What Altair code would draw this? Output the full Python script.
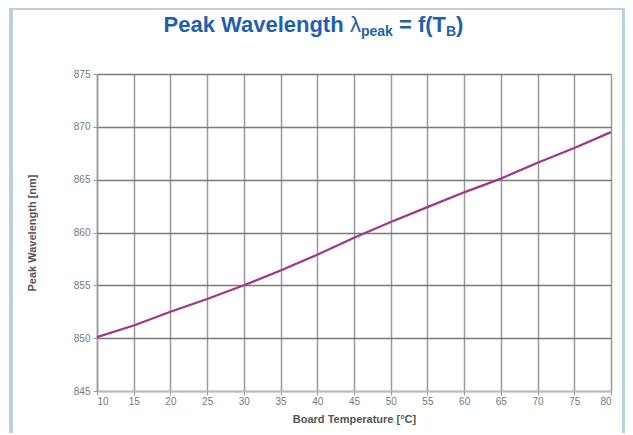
import altair as alt
import pandas as pd

temps = [10, 15, 20, 25, 30, 35, 40, 45, 50, 55, 60, 65, 70, 75, 80]
wavelength = [850.1, 851.2, 852.5, 853.7, 855.0, 856.4, 857.9, 859.5, 861.0,
              862.4, 863.8, 865.1, 866.6, 868.0, 869.5]
x_ticks = list(range(10, 81, 5))
y_ticks = list(range(845, 876, 5))

df = pd.DataFrame({"t": temps, "w": wavelength})

W, H = 514, 317
base = alt.Chart(df)

line = base.mark_line(color="#a1358f", strokeWidth=2.2).encode(
    x=alt.X("t:Q", scale=alt.Scale(domain=[10, 80], nice=False),
            axis=alt.Axis(values=x_ticks, title="Board Temperature [°C]",
                          gridColor="#9a9a9a", gridWidth=1.5,
                          domainColor="#bbbbbb", domainWidth=1.5,
                          tickColor="#999999", tickSize=4,
                          labelFontSize=10, labelColor="#777777",
                          labelPadding=1, labelFont="Liberation Sans",
                          titleFont="Liberation Sans", titleFontSize=11,
                          titleFontWeight="bold", titleColor="#555555",
                          titlePadding=7)),
    y=alt.Y("w:Q", scale=alt.Scale(domain=[845, 875], nice=False, zero=False),
            axis=alt.Axis(values=y_ticks, title="Peak Wavelength [nm]",
                          gridColor="#7a7a7a", gridWidth=1.5,
                          domainColor="#999999", domainWidth=1.5,
                          tickColor="#999999", tickSize=4,
                          labelFontSize=10, labelColor="#777777",
                          labelPadding=3, labelFont="Liberation Sans",
                          titleFont="Liberation Sans", titleFontSize=11,
                          titleFontWeight="bold", titleColor="#555555",
                          titlePadding=36)),
)

frame = base.mark_rect(fill=None, stroke="#bccfe2", strokeWidth=3).encode(
    x=alt.value(-86), x2=alt.value(526.5), y=alt.value(-65.5), y2=alt.value(450)
)

title_color = "#1f5fae"
def txt(s, x, y, size, weight="bold"):
    return alt.Chart(pd.DataFrame({"s": [s]})).mark_text(
        align="left", baseline="alphabetic", fontSize=size, fontWeight=weight,
        font="Liberation Sans", color=title_color
    ).encode(text="s:N", x=alt.value(x), y=alt.value(y))

titles = [
    txt("Peak Wavelength", 66.5, -42.5, 22),
    txt("λ", 253, -42.5, 22, "normal"),
    txt("peak", 264, -38.5, 14),
    txt("= f(T", 302, -42.5, 22),
    txt("B", 349, -38.5, 14),
    txt(")", 359, -42.5, 22),
]

chart = alt.layer(frame, line, *titles).properties(
    width=W, height=H,
    autosize=alt.AutoSizeParams(type="none"),
    padding={"left": 89, "top": 66, "right": 14, "bottom": 42},
    background="white",
).configure_view(stroke=None)

chart.save("out.html", embed_options={"renderer": "svg", "actions": False})
